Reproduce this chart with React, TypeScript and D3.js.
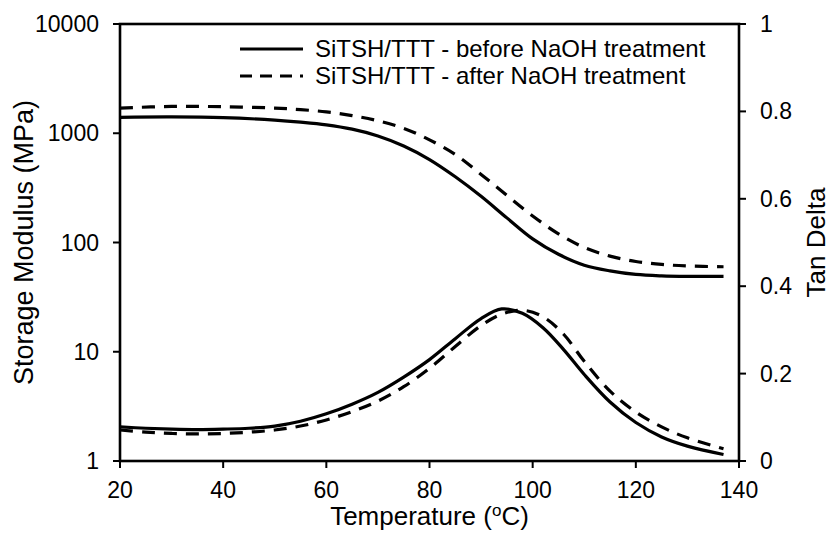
import React from "react";
import * as d3 from "d3";

const tempSM = [20, 30, 40, 50, 55, 60, 65, 70, 75, 80, 85, 90, 95, 100, 105, 110, 115, 120, 125, 130, 137];
const smBefore = [1400, 1410, 1390, 1320, 1265, 1195, 1090, 945, 765, 575, 400, 265, 168, 108, 78, 62, 55, 51, 49.5, 49, 49];
const smAfter = [1700, 1760, 1750, 1700, 1645, 1570, 1450, 1300, 1110, 870, 640, 420, 270, 175, 120, 90, 75, 67, 63, 61, 60];

const tempTD = [20, 25, 30, 35, 40, 45, 50, 55, 60, 65, 70, 75, 80, 85, 90, 94, 98, 102, 106, 110, 115, 120, 125, 130, 137];
const tdBefore = [0.078, 0.075, 0.073, 0.072, 0.073, 0.075, 0.08, 0.091, 0.108, 0.13, 0.157, 0.192, 0.232, 0.28, 0.326, 0.348, 0.338, 0.305, 0.255, 0.198, 0.135, 0.088, 0.055, 0.034, 0.015];
const tdAfter = [0.071, 0.066, 0.063, 0.062, 0.063, 0.066, 0.071, 0.08, 0.094, 0.113, 0.137, 0.17, 0.212, 0.262, 0.31, 0.336, 0.345, 0.33, 0.29, 0.228, 0.16, 0.112, 0.078, 0.053, 0.028];

const xTicks = [20, 40, 60, 80, 100, 120, 140];
const yLeftTicks = [1, 10, 100, 1000, 10000];
const yRightTicks = [0, 0.2, 0.4, 0.6, 0.8, 1];
const legendLabels = ["SiTSH/TTT - before NaOH treatment", "SiTSH/TTT - after NaOH treatment"];

const W = 833, H = 537;
const L = 120, R = 739, T = 24, B = 461;
const DASH = "13,9";
const FONT = "Arial, 'Liberation Sans', sans-serif";

export default function App() {
  const x = d3.scaleLinear().domain([20, 140]).range([L, R]);
  const yL = d3.scaleLog().domain([1, 10000]).range([B, T]);
  const yR = d3.scaleLinear().domain([0, 1]).range([B, T]);

  const lineSM = d3.line<[number, number]>().x(d => x(d[0])).y(d => yL(d[1])).curve(d3.curveCatmullRom.alpha(0.5));
  const lineTD = d3.line<[number, number]>().x(d => x(d[0])).y(d => yR(d[1])).curve(d3.curveCatmullRom.alpha(0.5));
  const zip = (a: number[], b: number[]) => a.map((v, i) => [v, b[i]] as [number, number]);

  const tickFs = 23;
  const legFs = 24;

  return (
    <svg width={W} height={H} style={{ position: "absolute", left: 0, top: 0, fontFamily: FONT }}>
      <rect x={0} y={0} width={W} height={H} fill="white" />
      {/* data */}
      <g fill="none" stroke="black" strokeWidth={3.2}>
        <path d={lineSM(zip(tempSM, smBefore)) || ""} />
        <path d={lineSM(zip(tempSM, smAfter)) || ""} strokeDasharray={DASH} />
        <path d={lineTD(zip(tempTD, tdBefore)) || ""} />
        <path d={lineTD(zip(tempTD, tdAfter)) || ""} strokeDasharray={DASH} />
      </g>
      {/* frame */}
      <rect x={L} y={T} width={R - L} height={B - T} fill="none" stroke="black" strokeWidth={2.6} />
      {/* bottom ticks */}
      {xTicks.map(t => (
        <g key={"x" + t}>
          <line x1={x(t)} x2={x(t)} y1={B} y2={B + 7} stroke="black" strokeWidth={2} />
          <text x={x(t)} y={498} fontSize={tickFs} textAnchor="middle">{t}</text>
        </g>
      ))}
      {yLeftTicks.map(t => (
        <g key={"yl" + t}>
          <line x1={L - 7} x2={L} y1={yL(t)} y2={yL(t)} stroke="black" strokeWidth={2} />
          <text x={L - 21} y={yL(t)} dy="0.35em" fontSize={tickFs} textAnchor="end">{t}</text>
        </g>
      ))}
      {yRightTicks.map(t => (
        <g key={"yr" + t}>
          <line x1={R} x2={R + 7} y1={yR(t)} y2={yR(t)} stroke="black" strokeWidth={2} />
          <text x={R + 21} y={yR(t)} dy="0.35em" fontSize={tickFs} textAnchor="start">{t}</text>
        </g>
      ))}
      {/* titles */}
      <text x={(L + R) / 2} y={525} fontSize={26} textAnchor="middle">
        Temperature (<tspan fontSize={17} dy={-9}>o</tspan><tspan dy={9}>C)</tspan>
      </text>
      <text transform={`translate(33, ${(T + B) / 2}) rotate(-90)`} fontSize={27} textAnchor="middle">
        Storage Modulus (MPa)
      </text>
      <text transform={`translate(825, ${(T + B) / 2}) rotate(-90)`} fontSize={26} textAnchor="middle">
        Tan Delta
      </text>
      {/* legend */}
      <g>
        <line x1={240} x2={303} y1={49} y2={49} stroke="black" strokeWidth={3.2} />
        <text x={315} y={49} dy="0.35em" fontSize={legFs}>{legendLabels[0]}</text>
        <line x1={240} x2={303} y1={76} y2={76} stroke="black" strokeWidth={3.2} strokeDasharray="12,8" />
        <text x={315} y={76} dy="0.35em" fontSize={legFs}>{legendLabels[1]}</text>
      </g>
    </svg>
  );
}
